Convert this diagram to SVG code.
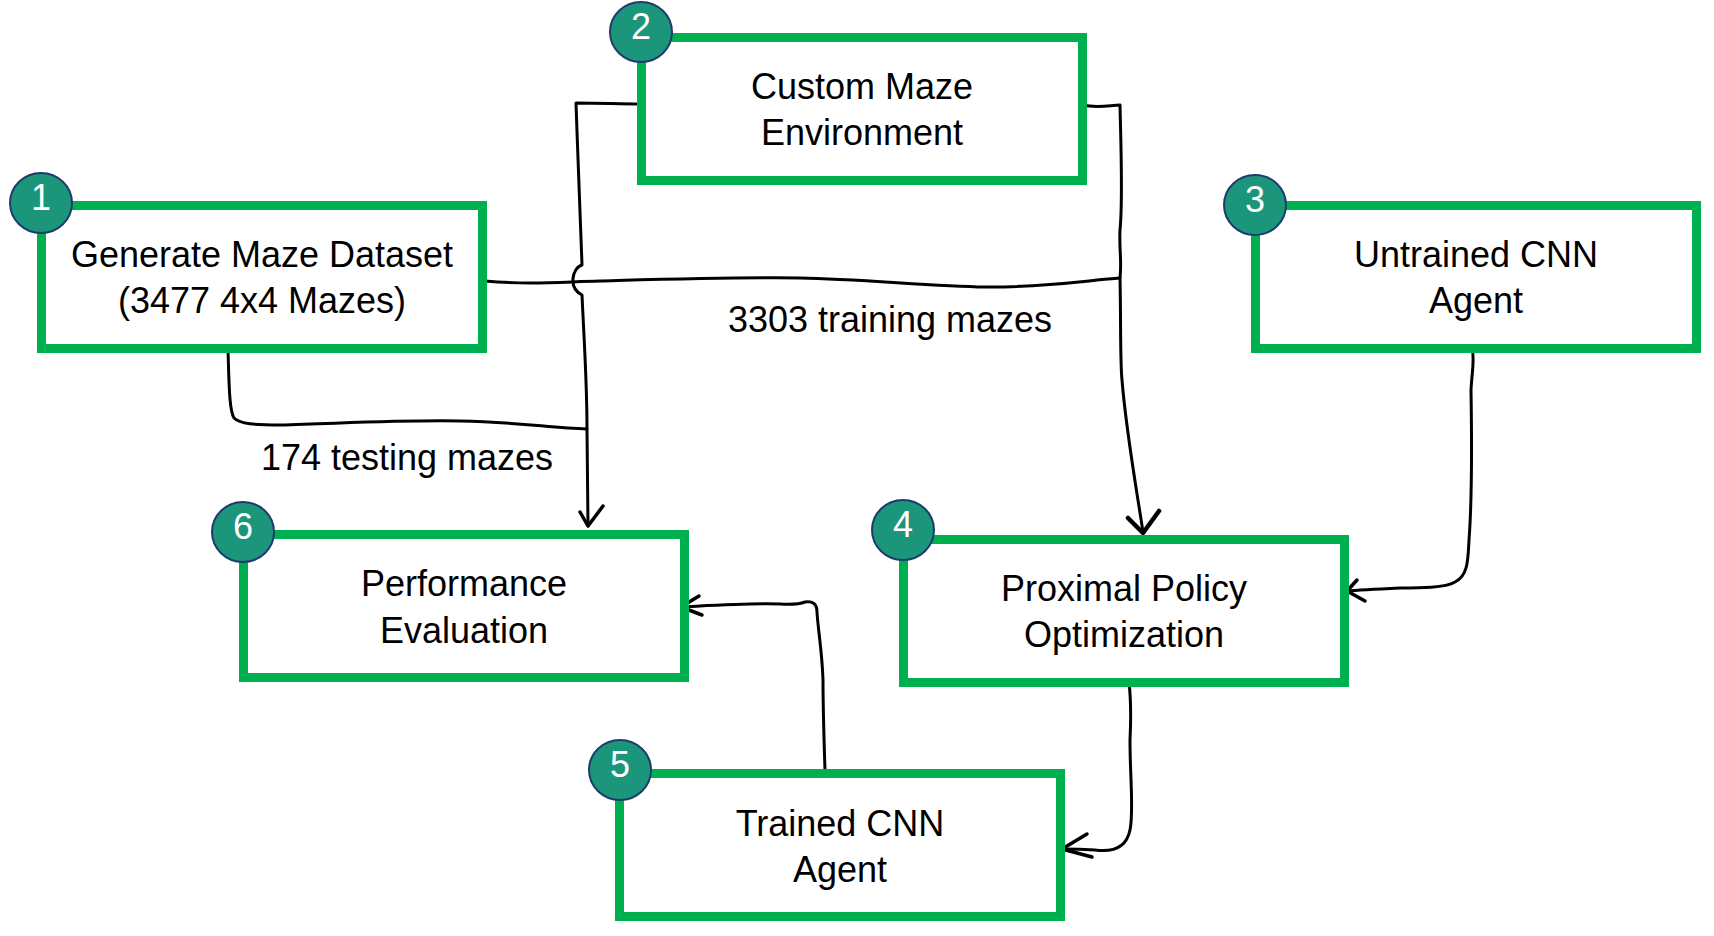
<svg xmlns="http://www.w3.org/2000/svg" width="1714" height="936" viewBox="0 0 1714 936">
<style>
.box{fill:#fff;stroke:#00b050;stroke-width:9}
.badge{fill:#1b967b;stroke:#1d3c6b;stroke-width:2}
.num{font-family:"Liberation Sans",Arial,sans-serif;font-size:36px;fill:#fff;text-anchor:middle}
.t{font-family:"Liberation Sans",Arial,sans-serif;font-size:36px;fill:#000;text-anchor:middle}
.c{fill:none;stroke:#000;stroke-width:3;stroke-linecap:round;stroke-linejoin:round}
.ah{fill:none;stroke:#000;stroke-width:3.5;stroke-linecap:round;stroke-linejoin:round}
</style>
<rect width="1714" height="936" fill="#fff"/>
<g id="connectors">
<path class="c" d="M 485 281 C 530 285 560 282 600 281 S 740 277 800 278 S 930 286 985 287 S 1090 280 1120 278"/>
<path class="c" d="M 640 104 C 620 104 600 103 576 103 C 578 160 580 220 582 265 C 572 268 568 288 582 295 C 584 340 587 380 587 430 L 588 526"/>
<path class="ah" d="M 580 512 L 588 526 L 603 506"/>
<path class="c" d="M 228 350 C 229 380 229 410 234 418 C 240 424 255 425 280 425 C 350 423 400 420 460 421 C 520 422 550 428 587 429"/>
<path class="c" d="M 1083 105 C 1095 108 1105 106 1120 105 C 1121 150 1123 200 1120 230 C 1119 250 1122 260 1120 278 C 1121 320 1120 360 1122 380 C 1126 430 1135 480 1143 532"/>
<path class="ah" d="M 1128 518 L 1143 533 L 1159 511" style="stroke-width:4.5"/>
<path class="c" d="M 1472 347 C 1475 360 1472 370 1471 390 C 1472 450 1472 500 1469 540 C 1468 560 1468 576 1455 582 C 1445 588 1420 588 1400 588 C 1380 589 1360 590 1347 591"/>
<path class="ah" d="M 1357 580 L 1347 591 L 1365 601"/>
<path class="c" d="M 1129 682 C 1131 700 1131 720 1130 740 C 1130 780 1134 810 1130 830 C 1126 850 1110 852 1095 850 C 1080 849 1070 849 1062 849"/>
<path class="ah" d="M 1087 834 L 1062 849 L 1092 857"/>
<path class="c" d="M 825 770 C 824 740 823 710 823 680 C 822 650 818 630 817 612 C 817 603 812 601 805 602 C 800 604 795 605 780 604 C 750 603 720 605 681 607"/>
<path class="ah" d="M 699 596 L 681 607 L 702 615"/>
<text class="t" x="890" y="332">3303 training mazes</text>
<text class="t" x="407" y="470">174 testing mazes</text>
</g>
<g id="node1">
<rect class="box" x="41.5" y="205.5" width="441" height="143"/>
<text class="t" x="262" y="267">Generate Maze Dataset</text>
<text class="t" x="262" y="313">(3477 4x4 Mazes)</text>
<ellipse class="badge" cx="41" cy="203" rx="31" ry="30"/>
<text class="num" x="41" y="210">1</text>
</g>
<g id="node2">
<rect class="box" x="641.5" y="37.5" width="441" height="143"/>
<text class="t" x="862" y="99">Custom Maze</text>
<text class="t" x="862" y="145">Environment</text>
<ellipse class="badge" cx="641" cy="32" rx="31" ry="30"/>
<text class="num" x="641" y="39">2</text>
</g>
<g id="node3">
<rect class="box" x="1255.5" y="205.5" width="441" height="143"/>
<text class="t" x="1476" y="267">Untrained CNN</text>
<text class="t" x="1476" y="313">Agent</text>
<ellipse class="badge" cx="1255" cy="205" rx="31" ry="30"/>
<text class="num" x="1255" y="212">3</text>
</g>
<g id="node4">
<rect class="box" x="903.5" y="539.5" width="441" height="143"/>
<text class="t" x="1124" y="601">Proximal Policy</text>
<text class="t" x="1124" y="647">Optimization</text>
<ellipse class="badge" cx="903" cy="530" rx="31" ry="30"/>
<text class="num" x="903" y="537">4</text>
</g>
<g id="node5">
<rect class="box" x="619.5" y="773.5" width="441" height="143"/>
<text class="t" x="840" y="836">Trained CNN</text>
<text class="t" x="840" y="882">Agent</text>
<ellipse class="badge" cx="620" cy="770" rx="31" ry="30"/>
<text class="num" x="620" y="777">5</text>
</g>
<g id="node6">
<rect class="box" x="243.5" y="534.5" width="441" height="143"/>
<text class="t" x="464" y="596">Performance</text>
<text class="t" x="464" y="643">Evaluation</text>
<ellipse class="badge" cx="243" cy="532" rx="31" ry="30"/>
<text class="num" x="243" y="539">6</text>
</g>
</svg>
